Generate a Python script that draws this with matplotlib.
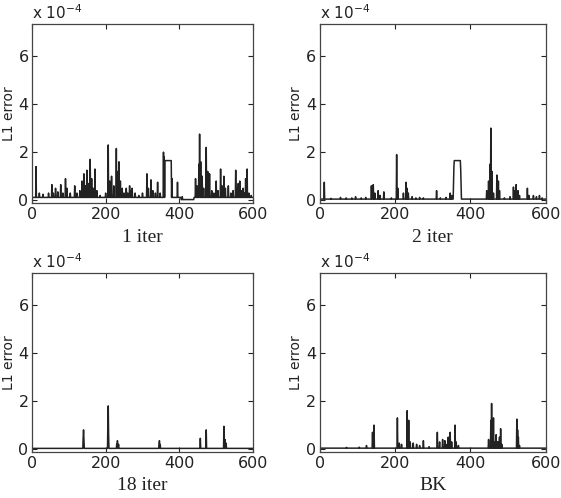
import numpy as np
import matplotlib
matplotlib.use("Agg")
import matplotlib.pyplot as plt

# values are in units of 1e-4 (axis carries the "x 10^-4" factor)
n_frames = 600

titles = ["1 iter", "2 iter", "18 iter", "BK"]

# baseline level segments: (start, end, level)
base_1 = [(0, 405, 0.12), (405, 440, 0.03), (440, 601, 0.12)]
base_2 = [(0, 601, 0.05)]
base_3 = [(0, 601, 0.03)]
base_4 = [(0, 601, 0.04)]

# plateaus: (start, end, level)
flat_1 = [(361, 378, 1.65)]
flat_2 = [(357, 373, 1.65)]
flat_3 = []
flat_4 = []

# spikes: (frame, error)
spikes_1 = [(11, 1.4), (20, 0.3), (30, 0.25), (45, 0.3), (54, 0.65), (58, 0.3),
            (64, 0.5), (70, 0.35), (78, 0.65), (84, 0.3), (91, 0.9), (95, 0.5),
            (104, 0.3), (116, 0.6), (122, 0.3), (130, 0.4), (136, 0.8), (141, 1.1),
            (145, 0.6), (149, 1.25), (153, 0.7), (158, 1.7), (162, 0.9), (166, 0.5),
            (171, 1.3), (176, 0.4), (185, 0.2), (200, 0.3), (207, 2.3), (211, 0.8),
            (216, 1.0), (222, 0.6), (229, 2.15), (233, 1.2), (236, 1.6), (240, 0.8),
            (245, 0.5), (250, 0.3), (256, 0.5), (260, 0.3), (265, 0.6), (268, 0.4),
            (272, 0.5), (280, 0.3), (290, 0.2), (300, 0.3), (312, 1.1), (316, 0.5),
            (323, 0.85), (328, 0.4), (335, 0.3), (341, 0.75), (348, 0.3), (357, 2.0),
            (359, 1.8), (380, 0.9), (395, 0.75), (408, 0.15), (444, 0.9), (448, 0.6),
            (453, 1.5), (455, 2.75), (458, 1.6), (462, 1.0), (466, 0.5), (473, 2.2),
            (477, 1.2), (482, 1.1), (488, 0.4), (494, 0.3), (500, 0.8), (505, 0.4),
            (512, 1.3), (516, 0.6), (521, 1.0), (525, 0.5), (533, 0.6), (540, 0.3),
            (546, 0.4), (553, 1.25), (557, 0.5), (560, 0.7), (564, 0.8), (568, 0.4),
            (573, 0.5), (577, 0.3), (580, 0.9), (584, 1.3), (589, 0.3), (595, 0.2)]
spikes_2 = [(12, 0.75), (30, 0.08), (55, 0.12), (70, 0.1), (85, 0.1), (95, 0.15),
            (110, 0.1), (122, 0.12), (137, 0.6), (142, 0.65), (146, 0.3), (155, 0.4),
            (160, 0.2), (170, 0.35), (190, 0.1), (204, 1.9), (207, 0.5), (222, 0.3),
            (229, 0.75), (232, 0.5), (235, 0.3), (245, 0.15), (255, 0.1), (265, 0.12),
            (275, 0.1), (310, 0.4), (320, 0.1), (335, 0.12), (346, 0.3), (350, 0.2),
            (355, 0.8), (356, 1.4), (374, 1.3), (375, 0.7), (443, 0.4), (448, 0.8),
            (452, 1.5), (454, 3.0), (457, 1.2), (461, 0.3), (470, 1.05), (474, 0.8),
            (477, 0.4), (490, 0.1), (505, 0.15), (514, 0.55), (518, 0.4), (521, 0.65),
            (526, 0.4), (530, 0.2), (551, 0.5), (555, 0.2), (567, 0.2), (575, 0.15),
            (583, 0.2), (590, 0.1)]
spikes_3 = [(139, 0.5), (140, 0.8), (141, 0.4), (206, 1.1), (207, 1.8), (208, 0.6),
            (230, 0.2), (232, 0.35), (235, 0.2), (345, 0.2), (346, 0.35), (348, 0.2),
            (457, 0.45), (473, 0.8), (521, 0.95), (524, 0.4), (527, 0.25)]
spikes_4 = [(71, 0.07), (105, 0.08), (124, 0.15), (140, 0.7), (144, 1.0), (206, 1.3),
            (211, 0.25), (217, 0.2), (232, 1.6), (236, 1.2), (240, 0.3), (248, 0.25),
            (257, 0.2), (265, 0.15), (275, 0.35), (290, 0.1), (312, 0.7), (318, 0.3),
            (326, 0.4), (332, 0.35), (338, 0.2), (341, 0.5), (346, 0.7), (350, 0.3),
            (359, 1.0), (362, 0.3), (368, 0.15), (448, 0.4), (454, 1.2), (456, 1.9),
            (459, 1.0), (461, 1.3), (465, 0.3), (468, 0.6), (471, 0.3), (474, 0.3),
            (477, 0.5), (480, 0.85), (483, 0.2), (523, 1.25), (525, 0.8), (527, 0.5),
            (530, 0.15)]

series = [(base_1, flat_1, spikes_1), (base_2, flat_2, spikes_2),
          (base_3, flat_3, spikes_3), (base_4, flat_4, spikes_4)]


def build(base, flat, spikes):
    y = np.zeros(n_frames + 1)
    for a, b, v in base:
        y[a:b] = v
    for a, b, v in flat:
        y[a:b + 1] = v
    for x, v in spikes:
        y[x] = v
    return y


# axes boxes in figure fractions: left, bottom, width, height
boxes = [(0.057, 0.592, 0.394, 0.360), (0.570, 0.592, 0.403, 0.360),
         (0.057, 0.0924, 0.394, 0.359), (0.570, 0.0924, 0.403, 0.359)]

ink = "#222222"
fig = plt.figure(figsize=(5.61, 4.98), dpi=100)
frames = np.arange(n_frames + 1)

for box, title, (base, flat, spikes) in zip(boxes, titles, series):
    ax = fig.add_axes(box)
    ax.plot(frames, build(base, flat, spikes), color=ink, lw=1.1)
    ax.set_xlim(0, 600)
    ax.set_ylim(-0.12, 7.33)
    ax.set_xticks([0, 200, 400, 600])
    ax.set_yticks([0, 2, 4, 6])
    ax.tick_params(direction="in", top=True, right=True, length=3.5,
                   labelsize=11.5, colors=ink, width=0.8)
    ax.tick_params(axis="y", pad=2.5)
    ax.tick_params(axis="x", pad=3)
    for s in ax.spines.values():
        s.set_color("#444444")
        s.set_linewidth(0.9)
    ax.set_ylabel("L1 error", fontsize=10, color=ink)
    ax.yaxis.set_label_coords(-0.072, 0.5)
    ax.set_xlabel(title, fontsize=14, family=["Liberation Serif", "DejaVu Serif"],
                  color=ink, labelpad=4.5)
    ax.text(0.0, 1.01, r"x 10$^{-4}$", transform=ax.transAxes, fontsize=11,
            color=ink, ha="left", va="bottom")

fig.savefig("out.png", dpi=100)
